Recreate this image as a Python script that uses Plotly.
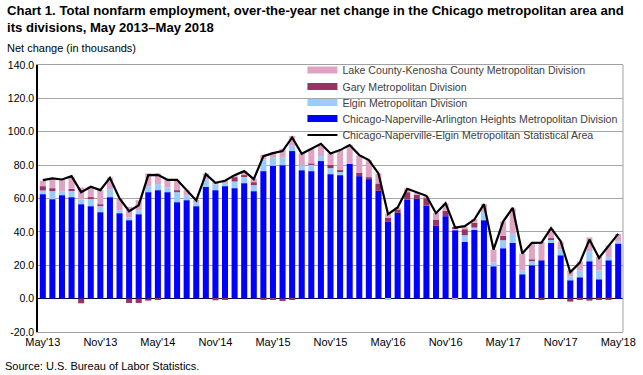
import plotly.graph_objects as go

mon = ["Jan", "Feb", "Mar", "Apr", "May", "Jun", "Jul", "Aug", "Sep", "Oct", "Nov", "Dec"]
months = [f"{mon[(4 + i) % 12]}'{13 + (4 + i) // 12}" for i in range(61)]

chicago = [62.6, 59.6, 62.0, 60.8, 56.6, 55.4, 51.8, 60.8, 51.2, 47.0,
           50.6, 63.8, 65.0, 63.8, 57.8, 59.0, 55.4, 67.0, 65.0, 67.4,
           66.2, 69.2, 64.4, 76.4, 79.6, 80.0, 88.4, 77.0, 76.4, 82.4,
           74.6, 74.0, 80.8, 73.4, 71.6, 64.6, 46.0, 51.4, 59.4, 59.8,
           55.8, 43.6, 49.4, 41.0, 34.0, 41.2, 47.0, 19.4, 30.2, 33.4,
           14.6, 20.0, 23.0, 33.4, 26.0, 11.0, 12.8, 22.4, 11.6, 23.0,
           33.0]
elgin = [2.2, 4.8, 2.4, 4.2, 2.8, 4.8, 3.6, 4.8, 1.8, 1.6,
         2.4, 3.6, 3.6, 2.8, 6.0, 2.8, 3.0, 4.4, 3.4, 2.4,
         4.0, 4.0, 3.6, 7.0, 4.8, 4.4, 3.2, 2.8, 3.8, 3.0,
         3.6, 2.4, 0.0, 0.0, 0.0, 0.0, -0.6, 0.0, 0.0, 0.0,
         0.0, 0.0, 0.0, 1.2, 4.0, 1.4, 4.8, 2.4, 4.8, 5.4,
         2.4, 2.4, 0.0, 2.0, 3.6, 2.4, 4.2, 6.0, 5.4, 2.0,
         1.2]
gary = [2.6, 1.8, 0.0, 0.8, -2.8, 0.6, 1.2, 0.0, 0.0, -2.6,
        -2.6, -1.2, -0.8, 0.0, 1.2, 0.0, 0.0, 0.0, -1.0, -0.6,
        2.6, 0.8, 1.8, -0.6, -0.6, -1.4, -0.6, 0.0, 0.6, 0.0,
        2.0, 0.6, 0.0, 2.0, 1.2, 4.4, 2.4, 2.0, 4.4, 2.4,
        4.4, 3.8, 3.2, 0.8, 3.6, 2.8, 0.0, 0.0, 2.6, 0.0,
        0.0, 1.2, -0.8, 0.8, 0.0, -1.8, -0.6, -1.2, -0.6, -0.6,
        0.0]
lake = [3.2, 5.2, 6.6, 7.2, 7.2, 6.2, 8.4, 7.0, 7.0, 6.4,
        6.0, 7.6, 6.4, 4.4, 5.6, 3.2, 0.6, 3.6, 1.4, 1.0,
        1.2, 2.4, 2.2, 2.8, 3.2, 5.4, 5.8, 7.2, 9.0, 6.4,
        6.8, 12.0, 11.4, 10.4, 10.2, 6.0, 2.6, 1.2, 2.2, 1.2,
        1.2, 4.0, 4.4, -0.5, 1.4, 2.2, 4.8, 7.6, 8.6, 15.2,
        10.0, 9.4, 11.0, 5.6, 4.6, 4.0, 5.2, 8.3, 8.0, 7.0,
        4.6]
msa = [71.0, 72.0, 71.4, 73.4, 63.8, 67.0, 65.0, 72.4, 60.0, 52.4,
       56.0, 74.0, 74.2, 71.2, 71.2, 65.2, 58.8, 74.6, 69.4, 70.6,
       74.0, 76.4, 71.6, 85.4, 87.2, 88.4, 96.6, 86.8, 90.0, 92.8,
       87.0, 89.0, 92.0, 86.0, 83.0, 75.0, 50.6, 54.6, 65.8, 63.6,
       61.6, 51.2, 57.2, 42.6, 43.4, 47.4, 56.6, 29.4, 46.2, 54.4,
       27.0, 33.4, 33.6, 42.2, 34.4, 15.8, 21.6, 35.4, 24.4, 31.6,
       38.8]

y_ticks = [-20, 0, 20, 40, 60, 80, 100, 120, 140]
y_ticktext = [f"{v:.1f}" for v in y_ticks]

FONT = "Liberation Sans, Arial, sans-serif"

series = [
    ("Chicago-Naperville-Arlington Heights Metropolitan Division", chicago, "#0000FF", "legend4"),
    ("Elgin Metropolitan Division", elgin, "#99CCFF", "legend3"),
    ("Gary Metropolitan Division", gary, "#993366", "legend2"),
    ("Lake County-Kenosha County Metropolitan Division", lake, "#DFA3C4", "legend"),
]

fig = go.Figure()
for i, (name, vals, color, leg) in enumerate(series):
    fig.add_trace(go.Bar(x=months, y=vals, name=name, marker=dict(color=color, line=dict(width=0)),
                         legendgroup=f"g{i}", showlegend=False))
    fig.add_trace(go.Scatter(x=[None], y=[None], mode="lines", name=name,
                             line=dict(color=color, width=7), legendgroup=f"g{i}",
                             legend=leg, hoverinfo="skip"))

fig.add_trace(go.Scatter(x=months, y=msa, mode="lines",
                         name="Chicago-Naperville-Elgin Metropolitan Statistical Area",
                         line=dict(color="black", width=2.2), legend="legend5"))

# plot area: x 38..623, y 65..332 px
def py(pix):
    return (332 - pix) / 267.0

legend_font = dict(family=FONT, size=10.6, color="#404040")
leg_common = dict(x=0.452, xanchor="left", yanchor="middle", bgcolor="rgba(0,0,0,0)",
                  font=legend_font, tracegroupgap=0)

fig.update_layout(
    width=643, height=375,
    barmode="relative", bargap=0.37,
    margin=dict(l=38, r=20, t=65, b=43, autoexpand=False),
    paper_bgcolor="white", plot_bgcolor="white",
    font=dict(family=FONT, size=11, color="#000000"),
    legend=dict(y=py(70), **leg_common),
    legend2=dict(y=py(86.5), **leg_common),
    legend3=dict(y=py(102.5), **leg_common),
    legend4=dict(y=py(118.5), **leg_common),
    legend5=dict(y=py(135), **leg_common),
    xaxis=dict(type="category", tickvals=months[::6], ticktext=months[::6],
               showgrid=False, showline=True, linecolor="#A0A0A0", linewidth=1, mirror=True,
               ticks="", tickfont=dict(size=11, color="#000000")),
    yaxis=dict(range=[-20, 140], tickvals=y_ticks, ticktext=y_ticktext,
               showgrid=True, gridcolor="#A6A6A6", gridwidth=1,
               zeroline=True, zerolinecolor="#000000", zerolinewidth=1,
               showline=True, linecolor="#000000", linewidth=1.5, ticks="",
               layer="above traces",
               tickfont=dict(size=10.5, color="#000000")),
    shapes=[dict(type="line", xref="paper", yref="paper", x0=1, x1=1, y0=0, y1=1,
                 line=dict(color="#A0A0A0", width=1))],
    annotations=[
        dict(text="<b>Chart 1. Total nonfarm employment, over-the-year net change in the Chicago metropolitan area and<br>its divisions, May 2013\u2013May 2018</b>",
             xref="paper", yref="paper", x=-0.057, y=py(1), xanchor="left", yanchor="top",
             align="left", showarrow=False, font=dict(family=FONT, size=13.1, color="#000000")),
        dict(text="Net change (in thousands)", xref="paper", yref="paper", x=-0.057, y=py(48),
             xanchor="left", yanchor="middle", showarrow=False, font=dict(size=11, color="#000000")),
        dict(text="Source: U.S. Bureau of Labor Statistics.", xref="paper", yref="paper", x=-0.06, y=py(366),
             xanchor="left", yanchor="middle", showarrow=False, font=dict(size=11, color="#000000")),
    ],
)

fig.write_html("out.html", config={"displayModeBar": False},
               post_script="document.body.style.margin='0';")
